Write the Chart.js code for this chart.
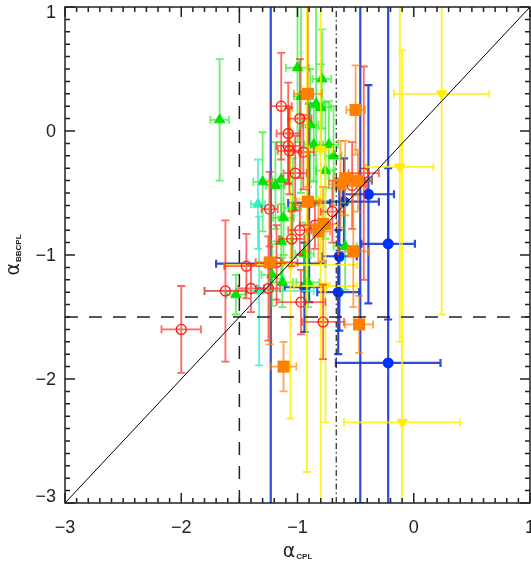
<!DOCTYPE html>
<html>
<head>
<meta charset="utf-8">
<script src="https://cdn.jsdelivr.net/npm/chart.js@4/dist/chart.umd.min.js"></script>
<style>
  html, body { margin: 0; padding: 0; background: #fff; }
  #wrap { width: 531px; height: 562px; }
</style>
</head>
<body>
<div id="wrap"><canvas id="chart"></canvas></div>
<script>
// axis setup
const axisMin = -3;
const axisMax = 1;
const minorStep = 0.1;
const tickValues = [-3, -2, -1, 0, 1];
const xTitle = "α", xSub = "CPL";
const yTitle = "α", ySub = "BBCPL";
const limitLine = -1.5;     // dashed lines on both axes
const cplLine = -2 / 3;     // dash-dot vertical

// red open circles
const redX = [-2.00, -1.62, -1.44, -1.40, -1.18, -1.25, -0.97, -0.78, -1.24, -0.98, -1.05, -0.85, -0.70, -0.43, -1.02, -1.07, -0.95, -1.14, -0.98, -1.08, -1.08, -0.53];
const redY = [-1.60, -1.29, -1.09, -1.27, -1.06, -1.27, -1.38, -1.54, -0.63, -0.80, -0.87, -0.76, -0.65, -0.34, -0.34, -0.16, -0.17, 0.20, 0.10, -0.02, -0.12, -0.44];
const redXErr = [0.17, 0.18, 0.19, 0.11, 0.18, 0.10, 0.21, 0.18, 0.07, 0.10, 0.11, 0.13, 0.10, 0.13, 0.10, 0.10, 0.09, 0.09, 0.10, 0.10, 0.10, 0.12];
const redYErr = [0.35, 0.57, 0.26, 0.19, 0.30, 0.42, 0.26, 0.30, 0.30, 0.20, 0.22, 0.19, 0.25, 0.86, 0.30, 0.35, 0.30, 0.43, 0.48, 0.41, 0.30, 0.35];

// orange squares
const orangeX = [-0.91, -0.50, -0.91, -0.59, -0.48, -0.63, -0.78, -0.82, -0.52, -1.24, -0.47, -1.12];
const orangeY = [0.30, 0.17, -0.57, -0.38, -0.40, -0.43, -0.75, -0.81, -0.97, -1.06, -1.56, -1.90];
const orangeXErr = [0.12, 0.08, 0.10, 0.10, 0.12, 0.10, 0.12, 0.10, 0.13, 0.12, 0.12, 0.11];
const orangeYErr = [0.75, 0.36, 0.40, 0.30, 0.25, 0.35, 0.30, 0.25, 0.45, 0.66, 0.23, 0.20];

// yellow down triangles
const yellowX = [0.24, -0.12, -0.10, -0.76, -1.06, -0.92, -0.80];
const yellowY = [0.30, -0.29, -2.35, -1.25, -1.08, -0.55, -0.15];
const yellowXErr = [0.41, 0.29, 0.50, 0.27, 0.57, 0.10, 0.10];
const yellowYErr = [1.78, 1.41, 3.00, 1.10, 1.24, 2.20, 2.90];

// green triangles
const greenX = [-1.67, -1.00, -0.79, -0.80, -0.89, -0.86, -0.73, -0.69, -1.30, -1.19, -1.14, -1.12, -1.14, -0.59, -1.22, -1.13, -1.53, -0.91, -0.94, -0.97, -0.84, -0.76, -1.04];
const greenY = [0.09, 0.51, 0.42, 0.19, 0.05, -0.11, -0.11, -0.20, -0.41, -0.44, -0.39, -0.70, -0.89, -0.93, -1.16, -1.22, -1.32, -1.22, -0.99, 0.28, 0.22, -0.32, -0.62];
const greenXErr = [0.08, 0.10, 0.08, 0.09, 0.07, 0.08, 0.08, 0.07, 0.08, 0.08, 0.08, 0.09, 0.10, 0.10, 0.09, 0.09, 0.08, 0.10, 0.08, 0.06, 0.07, 0.08, 0.07];
const greenYErr = [0.49, 0.60, 0.40, 0.35, 0.45, 0.30, 0.35, 0.40, 0.40, 0.35, 0.30, 0.30, 0.30, 0.35, 0.25, 0.20, 0.16, 0.20, 0.25, 0.78, 0.82, 0.55, 0.40];

// aqua triangles
const aquaX = [-1.34, -1.33];
const aquaY = [-0.59, -1.29];
const aquaXErr = [0.06, 0.47];
const aquaYErr = [0.36, 0.60];

// blue filled circles
const blueX = [-0.39, -0.22, -0.22, -0.64, -0.65, -0.94, -0.60, -1.23, -0.46, -0.90];
const blueY = [-0.51, -0.91, -1.87, -1.01, -1.30, -1.26, -0.57, -1.07, -0.40, -0.58];
const blueXErr = [0.22, 0.23, 0.45, 0.15, 0.18, 0.17, 0.30, 0.47, 0.10, 0.18];
const blueYErr = [0.88, 0.61, 3.00, 0.60, 0.50, 0.36, 0.35, 3.00, 2.60, 0.80];

const labelFont = { family: "'Liberation Sans', Arial, sans-serif", size: 18 };

function pts(xs, ys) {
    return xs.map((x, i) => ({ x: x, y: ys[i] }));
}

function series(label, xs, ys, xe, ye, style) {
    return Object.assign({ label: label, data: pts(xs, ys), xErr: xe, yErr: ye }, style);
}

function refLine(label, a, b, style) {
    return Object.assign({
        label: label,
        data: [a, b],
        showLine: true,
        pointRadius: 0,
        borderColor: "#222",
        borderWidth: 1.5,
        order: 0,
    }, style);
}

// minus sign like the original
function fmt(v) {
    return v < 0 ? "\u2212" + Math.abs(v) : String(v);
}

// error bars, drawn just before each dataset's markers
const errorBars = {
    id: "errorBars",
    beforeDatasetDraw(chart, args) {
        const ds = chart.data.datasets[args.index];
        if (!ds.xErr) return;
        const { ctx, chartArea: a, scales: { x, y } } = chart;
        const cap = 4;
        ctx.save();
        ctx.beginPath();
        ctx.rect(a.left, a.top, a.right - a.left, a.bottom - a.top);
        ctx.clip();
        ctx.strokeStyle = ds.barColor;
        ctx.lineWidth = ds.barWidth || 1.8;
        ds.data.forEach((p, i) => {
            const px = x.getPixelForValue(p.x);
            const py = y.getPixelForValue(p.y);
            const x0 = x.getPixelForValue(p.x - ds.xErr[i]);
            const x1 = x.getPixelForValue(p.x + ds.xErr[i]);
            const y0 = y.getPixelForValue(p.y - ds.yErr[i]);
            const y1 = y.getPixelForValue(p.y + ds.yErr[i]);
            ctx.beginPath();
            ctx.moveTo(x0, py); ctx.lineTo(x1, py);
            ctx.moveTo(px, y0); ctx.lineTo(px, y1);
            ctx.moveTo(x0, py - cap); ctx.lineTo(x0, py + cap);
            ctx.moveTo(x1, py - cap); ctx.lineTo(x1, py + cap);
            ctx.moveTo(px - cap, y0); ctx.lineTo(px + cap, y0);
            ctx.moveTo(px - cap, y1); ctx.lineTo(px + cap, y1);
            ctx.stroke();
        });
        ctx.restore();
    },
};

// box with inward ticks on all four sides
const frame = {
    id: "frame",
    beforeDraw(chart) {
        // keep the end labels of the y axis inside the box
        const s = chart.scales.y;
        s.getLabelItems(chart.chartArea).forEach((it) => {
            const t = it.options.translation;
            if (it.label === fmt(axisMax)) t[1] += 6;
            else if (it.label === fmt(axisMin)) t[1] -= 6;
            else t[1] += 1.5;
        });
    },
    afterDatasetsDraw(chart) {
        const { ctx, chartArea: a, scales: { x, y } } = chart;
        ctx.save();
        ctx.strokeStyle = "#222";
        ctx.lineWidth = 1.5;
        ctx.strokeRect(a.left, a.top, a.right - a.left, a.bottom - a.top);
        ctx.beginPath();
        const n = Math.round((axisMax - axisMin) / minorStep);
        for (let k = 0; k <= n; k++) {
            const v = axisMin + k * minorStep;
            const len = k % 10 === 0 ? 10 : 5;
            const px = x.getPixelForValue(v);
            const py = y.getPixelForValue(v);
            ctx.moveTo(px, a.bottom); ctx.lineTo(px, a.bottom - len);
            ctx.moveTo(px, a.top); ctx.lineTo(px, a.top + len);
            ctx.moveTo(a.left, py); ctx.lineTo(a.left + len, py);
            ctx.moveTo(a.right, py); ctx.lineTo(a.right - len, py);
        }
        ctx.stroke();
        ctx.restore();
    },
    afterDraw(chart) {
        const { ctx, chartArea: a } = chart;
        const big = "19px 'DejaVu Sans', sans-serif";
        const small = "bold 8px 'Liberation Sans', Arial, sans-serif";
        function title(main, sub) {
            ctx.font = big;
            const w1 = ctx.measureText(main).width;
            ctx.font = small;
            const w2 = ctx.measureText(sub).width;
            const start = -(w1 + 1 + w2) / 2;
            ctx.font = big;
            ctx.fillText(main, start, 0);
            ctx.font = small;
            ctx.fillText(sub, start + w1 + 1, 2);
        }
        ctx.save();
        ctx.fillStyle = "#222";
        ctx.textBaseline = "alphabetic";
        ctx.textAlign = "left";
        ctx.translate((a.left + a.right) / 2, 557);
        title(xTitle, xSub);
        ctx.restore();
        ctx.save();
        ctx.fillStyle = "#222";
        ctx.textBaseline = "alphabetic";
        ctx.textAlign = "left";
        ctx.translate(19, (a.top + a.bottom) / 2);
        ctx.rotate(-Math.PI / 2);
        title(yTitle, ySub);
        ctx.restore();
    },
};

const datasets = [
    series("blue", blueX, blueY, blueXErr, blueYErr, {
        pointStyle: "circle", pointRadius: 5.5, backgroundColor: "#0030ff", borderColor: "#0030ff", borderWidth: 0,
        barColor: "rgba(25, 55, 210, 0.9)", barWidth: 2.2, order: 8,
    }),
    series("green", greenX, greenY, greenXErr, greenYErr, {
        pointStyle: "triangle", pointRadius: 6, backgroundColor: "#00e600", borderColor: "#00e600", borderWidth: 1,
        barColor: "rgba(30, 230, 30, 0.65)", order: 7,
    }),
    series("aqua", aquaX, aquaY, aquaXErr, aquaYErr, {
        pointStyle: "triangle", pointRadius: 6, backgroundColor: "#30f0c0", borderColor: "#30f0c0", borderWidth: 1,
        barColor: "rgba(50, 240, 200, 0.8)", order: 6,
    }),
    series("yellow", yellowX, yellowY, yellowXErr, yellowYErr, {
        pointStyle: "triangle", rotation: 180, pointRadius: 6, backgroundColor: "#ffee00", borderColor: "#ffee00", borderWidth: 1,
        barColor: "rgba(255, 238, 0, 0.85)", order: 5,
    }),
    series("red", redX, redY, redXErr, redYErr, {
        pointStyle: "circle", pointRadius: 5, backgroundColor: "rgba(0,0,0,0)", borderColor: "#ff1a10", borderWidth: 1.3,
        barColor: "rgba(255, 40, 30, 0.7)", order: 4,
    }),
    series("orange", orangeX, orangeY, orangeXErr, orangeYErr, {
        pointStyle: "rect", pointRadius: 8.5, backgroundColor: "#ff8000", borderColor: "#ff8000", borderWidth: 0,
        barColor: "rgba(255, 130, 0, 0.7)", order: 3,
    }),
    refLine("one to one", { x: axisMin, y: axisMin }, { x: axisMax, y: axisMax }, { borderColor: "#000", borderWidth: 1 }),
    refLine("x limit", { x: limitLine, y: axisMin }, { x: limitLine, y: axisMax }, { borderDash: [13, 11] }),
    refLine("y limit", { x: axisMin, y: limitLine }, { x: axisMax, y: limitLine }, { borderDash: [13, 11] }),
    refLine("cpl limit", { x: cplLine, y: axisMin }, { x: cplLine, y: axisMax }, { borderWidth: 1.2, borderDash: [6, 3, 1.5, 3] }),
];

const config = {
    type: "scatter",
    data: { datasets: datasets },
    options: {
        responsive: true,
        maintainAspectRatio: false,
        animation: false,
        events: [],
        layout: { padding: { top: 7, right: 1, left: 0, bottom: 0 }, autoPadding: false },
        scales: {
            x: {
                type: "linear",
                min: axisMin,
                max: axisMax,
                afterBuildTicks: (s) => { s.ticks = tickValues.map((v) => ({ value: v })); },
                afterFit: (s) => { s.height = 59; s.paddingLeft = 0; s.paddingRight = 0; },
                grid: { display: false, drawTicks: false },
                border: { display: false },
                ticks: { font: labelFont, color: "#222", padding: 14, maxRotation: 0, autoSkip: false, callback: fmt },
            },
            y: {
                type: "linear",
                min: axisMin,
                max: axisMax,
                afterBuildTicks: (s) => { s.ticks = tickValues.map((v) => ({ value: v })); },
                afterFit: (s) => { s.width = 65; s.paddingTop = 0; s.paddingBottom = 0; },
                grid: { display: false, drawTicks: false },
                border: { display: false },
                ticks: { font: labelFont, color: "#222", padding: 9, autoSkip: false, callback: fmt },
            },
        },
        plugins: {
            legend: { display: false },
            tooltip: { enabled: false },
        },
    },
    plugins: [errorBars, frame],
};

const myChart = new Chart(document.getElementById("chart"), config);
</script>
</body>
</html>
